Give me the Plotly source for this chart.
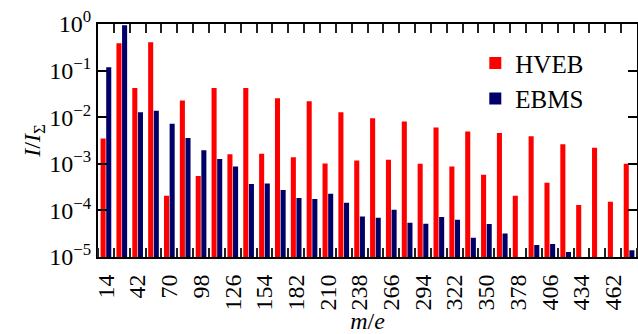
import plotly.graph_objects as go

mass = [14, 28, 42, 56, 70, 84, 98, 112, 126, 140, 154, 168, 182, 196, 210, 224, 238,
        252, 266, 280, 294, 308, 322, 336, 350, 364, 378, 392, 406, 420, 434, 448, 462, 476]
label_vals = [14, 42, 70, 98, 126, 154, 182, 210, 238, 266, 294, 322, 350, 378, 406, 434, 462]
hveb = [3.5e-3, 0.385, 0.0425, 0.405, 2.06e-4, 0.0228, 5.5e-4, 0.0425, 1.61e-3, 0.0425, 1.64e-3,
        0.0255, 1.39e-3, 0.022, 1.02e-3, 0.0128, 1.18e-3, 9.5e-3, 1.22e-3, 8.07e-3, 1.0e-3, 6.0e-3,
        8.8e-4, 4.93e-3, 5.8e-4, 4.6e-3, 2.06e-4, 3.9e-3, 3.9e-4, 2.64e-3, 1.3e-4, 2.2e-3, 1.53e-4, 1.0e-3]
ebms = [0.118, 0.94, 0.0128, 0.0137, 7.2e-3, 3.6e-3, 1.96e-3, 1.26e-3, 8.8e-4, 3.67e-4, 3.8e-4,
        2.73e-4, 1.84e-4, 1.75e-4, 2.28e-4, 1.46e-4, 7.4e-5, 6.97e-5, 1.03e-4, 5.4e-5, 5.2e-5, 7.2e-5,
        6.3e-5, 2.6e-5, 5.1e-5, 3.2e-5, None, 1.8e-5, 1.9e-5, 1.28e-5, None, None, None, 1.4e-5]
y_tick_vals = [1e-5, 1e-4, 1e-3, 1e-2, 1e-1, 1]
y_tick_text = ["10<sup>−5</sup>", "10<sup>−4</sup>", "10<sup>−3</sup>", "10<sup>−2</sup>",
               "10<sup>−1</sup>", "10<sup>0</sup>"]

FONT = "Liberation Serif"
RED = "#ff0000"
NAVY = "#000068"
X_RANGE = [7, 483]
boundary_ticks = dict(ticks="inside", tick0=7, dtick=14, ticklen=9, tickwidth=2,
                      tickcolor="#222222", showgrid=False)

fig = go.Figure()
fig.add_trace(go.Bar(x=mass, y=hveb, name="HVEB", marker=dict(color=RED, line=dict(width=0))))
fig.add_trace(go.Bar(x=mass, y=ebms, name="EBMS", marker=dict(color=NAVY, line=dict(width=0))))
# invisible helper so the top axis with boundary ticks is drawn
fig.add_trace(go.Scatter(x=mass, y=hveb, xaxis="x2", yaxis="y", mode="markers",
                         marker=dict(opacity=0), showlegend=False, hoverinfo="skip"))

fig.update_layout(
    template="none",
    width=638, height=334,
    margin=dict(l=98, r=1, t=24, b=77),
    paper_bgcolor="white", plot_bgcolor="white",
    font=dict(family=FONT, size=24, color="black"),
    barmode="group", bargap=0.29, bargroupgap=0.1,
    showlegend=True,
    legend=dict(x=0.70, y=0.93, xanchor="left", yanchor="top",
                bgcolor="rgba(0,0,0,0)", font=dict(family=FONT, size=25),
                tracegroupgap=0, itemwidth=30),
    xaxis=dict(
        range=X_RANGE, tickmode="array", tickvals=label_vals,
        ticktext=[str(v) for v in label_vals], tickangle=-90,
        ticks="", showgrid=False, zeroline=False, ticklabelstandoff=6,
        showline=True, linewidth=2, linecolor="black", mirror=True,
        minor=boundary_ticks,
        title=dict(text="<i>m</i>/<i>e</i>", font=dict(family=FONT, size=24), standoff=0),
        tickfont=dict(family=FONT, size=24),
    ),
    xaxis2=dict(overlaying="x", anchor="y", side="top", range=X_RANGE,
                tickmode="linear", tick0=7, dtick=14,
                ticks="inside", ticklen=9, tickwidth=2, tickcolor="#222222",
                showticklabels=False, showgrid=False, zeroline=False, showline=False),
    yaxis=dict(
        type="log", range=[-5, 0], tickmode="array", tickvals=y_tick_vals, ticktext=y_tick_text,
        ticks="inside", ticklen=9, tickwidth=1.5, tickcolor="black",
        showgrid=False, zeroline=False,
        showline=True, linewidth=2, linecolor="black", mirror="ticks",
        title=dict(text="<i>I</i>/<i>I</i><sub>Σ</sub>", font=dict(family=FONT, size=24), standoff=2),
        tickfont=dict(family=FONT, size=24),
    ),
)

fig.write_html("out.html")
